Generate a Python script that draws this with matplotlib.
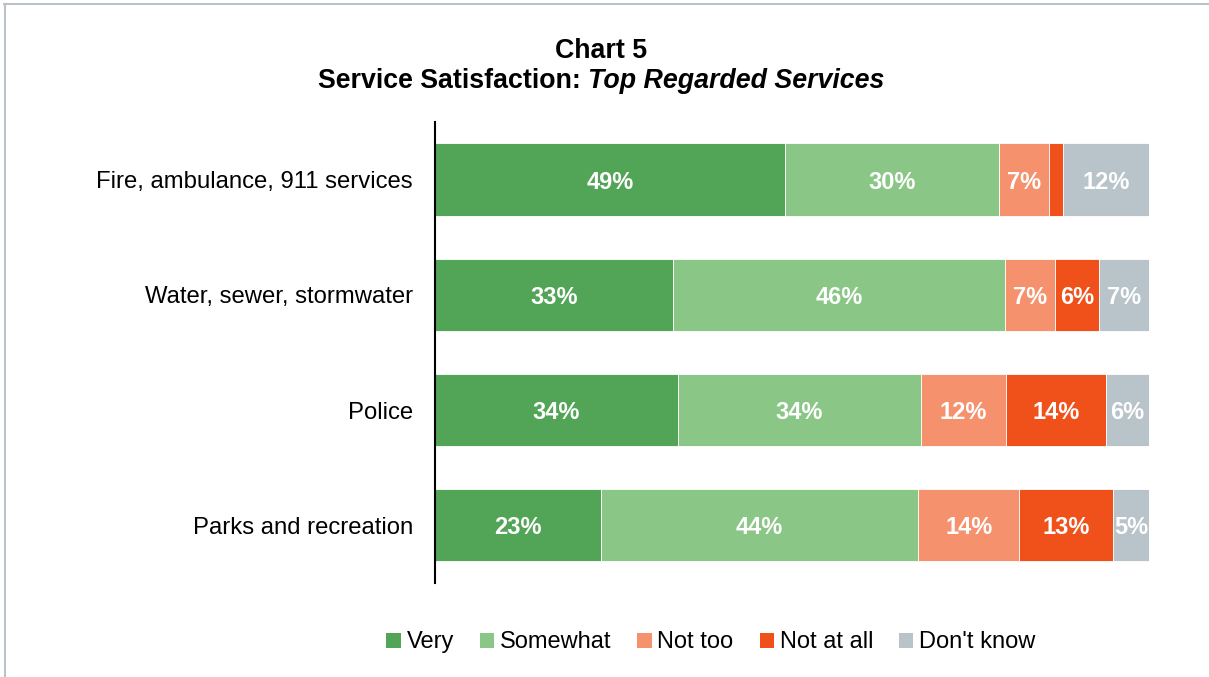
import numpy as np
import matplotlib.pyplot as plt
from matplotlib.patches import Patch

plt.rcParams['font.family'] = ['Liberation Sans', 'DejaVu Sans']

services = ["Fire, ambulance, 911 services", "Water, sewer, stormwater",
            "Police", "Parks and recreation"]
very = [49, 33, 34, 23]
somewhat = [30, 46, 34, 44]
not_too = [7, 7, 12, 14]
not_at_all = [2, 6, 14, 13]
dont_know = [12, 7, 6, 5]

series_names = ["Very", "Somewhat", "Not too", "Not at all", "Don't know"]
colors = ["#52a457", "#8ac686", "#f5916d", "#f0511a", "#b9c3ca"]

data = np.array([very, somewhat, not_too, not_at_all, dont_know], dtype=float)
totals = data.sum(axis=0)
shares = data / totals * 100  # stacked to 100%

fig = plt.figure(figsize=(12.09, 6.77), dpi=100)
ax = fig.add_axes([0.3598, 0.1389, 0.5906, 0.681])

ypos = np.arange(len(services))
left = np.zeros(len(services))
for vals, pct, col in zip(data, shares, colors):
    ax.barh(ypos, pct, left=left, height=0.626, color=col,
            edgecolor="white", linewidth=0.6)
    for y, v, p, l in zip(ypos, vals, pct, left):
        if v >= 3:
            ax.text(l + p / 2, y, f"{v:.0f}%", ha="center", va="center_baseline",
                    color="white", fontsize=17, fontweight="bold")
    left += pct

ax.set_xlim(0, 100)
ax.set_ylim(len(services) - 0.5, -0.5)
ax.set_yticks(ypos)
ax.set_yticklabels(services, fontsize=17.2)
ax.tick_params(axis="y", length=0, pad=16)
ax.set_xticks([])
for s in ["top", "right", "bottom"]:
    ax.spines[s].set_visible(False)
ax.spines["left"].set_linewidth(1.5)

fig.text(0.497, 0.925, "Chart 5", ha="center", va="center",
         fontsize=19.3, fontweight="bold")
t1 = fig.text(0.0, 0.0, "Service Satisfaction: ", fontsize=19.3, fontweight="bold")
t2 = fig.text(0.0, 0.0, "Top Regarded Services", fontsize=19.3,
              fontweight="bold", style="italic")
fig.canvas.draw()
r = fig.canvas.get_renderer()
w1 = t1.get_window_extent(r).width
w2 = t2.get_window_extent(r).width
W = fig.bbox.width
x0 = (0.497 * W - (w1 + w2) / 2) / W
t1.set_position((x0, 0.881))
t1.set_va("center")
t2.set_position((x0 + w1 / W, 0.881))
t2.set_va("center")

handles = [Patch(facecolor=c, edgecolor="none") for c in colors]
fig.legend(handles, series_names, loc="center", bbox_to_anchor=(0.588, 0.051),
           ncol=5, frameon=False, fontsize=17, handlelength=0.6,
           handleheight=0.6, handletextpad=0.25, columnspacing=1.1)

# frame lines along top and left edge
fig.add_artist(plt.Line2D([0.003, 1.0], [0.994, 0.994], color="#b9c3ca",
                          linewidth=1.5, transform=fig.transFigure))
fig.add_artist(plt.Line2D([0.004, 0.004], [0.0, 0.994], color="#b9c3ca",
                          linewidth=1.5, transform=fig.transFigure))

fig.savefig("out.png", dpi=100)
